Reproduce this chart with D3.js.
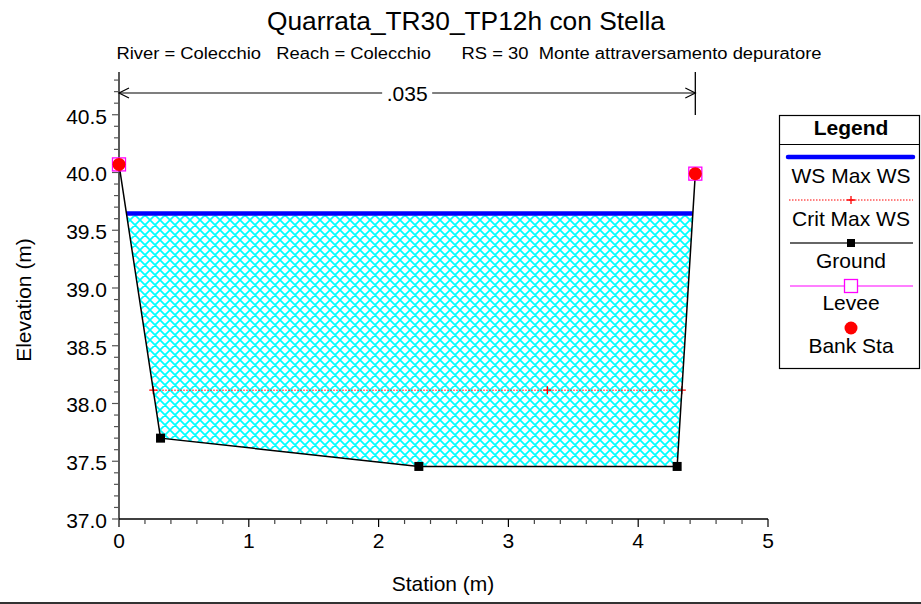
<!DOCTYPE html>
<html><head><meta charset="utf-8">
<script src="https://cdn.jsdelivr.net/npm/d3@7"></script>
<style>body{margin:0;background:#fff}svg{display:block;font-family:"Liberation Sans",Arial,sans-serif}</style>
</head><body><svg id="c" width="921" height="604"></svg>
<script>
// ---- data ----
const titleText = "Quarrata_TR30_TP12h con Stella";
const subtitleText = "River = Colecchio   Reach = Colecchio      RS = 30  Monte attraversamento depuratore";
const groundStation = [0, 0.32, 2.31, 4.30, 4.44];
const groundElev = [40.07, 37.70, 37.455, 37.455, 39.99];
const wsElev = 39.645;
const critElev = 38.115;
const critStations = [0.264, 3.30, 4.336];
const bankStation = [0, 4.44];
const bankElev = [40.07, 39.99];
const leveeStation = [0, 4.44];
const leveeElev = [40.07, 39.99];
const manningN = [".035"];
const xTicks = [0, 1, 2, 3, 4, 5];
const yTicks = [37.0, 37.5, 38.0, 38.5, 39.0, 39.5, 40.0, 40.5];
const legendLabels = ["WS Max WS", "Crit Max WS", "Ground", "Levee", "Bank Sta"];

const svg = d3.select("#c");
const x = d3.scaleLinear().domain([0, 5]).range([119, 768]);
const y = d3.scaleLinear().domain([37, 40.87]).range([519, 72]);
const FS = 21;

// crosshatch pattern
const defs = svg.append("defs");
const P = 10;
const pat = defs.append("pattern").attr("id", "hatch").attr("patternUnits", "userSpaceOnUse")
  .attr("width", P).attr("height", P);
pat.append("path")
  .attr("d", `M0,0L${P},${P}M${P},0L0,${P}M-2,${P - 2}L2,${P + 2}M${P - 2},-2L${P + 2},2M${P - 2},${P + 2}L${P + 2},${P - 2}M-2,2L2,-2`)
  .attr("stroke", "#00ffff").attr("stroke-width", 1.7).attr("fill", "none");

// title
svg.append("text").attr("x", 466).attr("y", 30).attr("text-anchor", "middle").attr("font-size", 25)
  .attr("textLength", 398).attr("lengthAdjust", "spacingAndGlyphs").text(titleText);
svg.append("text").attr("x", 469).attr("y", 59).attr("text-anchor", "middle").attr("font-size", 16)
  .attr("textLength", 705).attr("lengthAdjust", "spacingAndGlyphs")
  .style("white-space", "pre").text(subtitleText);

const ground = groundStation.map((s, i) => [s, groundElev[i]]);

function levelCross(level) {
  const pts = [];
  for (let i = 0; i < ground.length - 1; i++) {
    const [s0, e0] = ground[i], [s1, e1] = ground[i + 1];
    if ((e0 - level) * (e1 - level) < 0) {
      const t = (level - e0) / (e1 - e0);
      pts.push(s0 + t * (s1 - s0));
    }
  }
  return pts;
}
const wsX = levelCross(wsElev);
const poly = [[wsX[0], wsElev]];
ground.forEach(p => { if (p[1] < wsElev) poly.push(p); });
poly.push([wsX[wsX.length - 1], wsElev]);
svg.append("path").attr("d", d3.line().x(d => x(d[0])).y(d => y(d[1]))(poly) + "Z")
  .attr("fill", "url(#hatch)").attr("stroke", "none");

// crit line
const cX = levelCross(critElev);
svg.append("line").attr("x1", x(cX[0])).attr("x2", x(cX[cX.length - 1])).attr("y1", y(critElev)).attr("y2", y(critElev))
  .attr("stroke", "#ff0000").attr("stroke-width", 1).attr("stroke-dasharray", "1.5,1.5");
critStations.forEach(s => {
  const cx = x(s), cy = y(critElev);
  svg.append("path").attr("d", `M${cx - 4},${cy}H${cx + 4}M${cx},${cy - 4}V${cy + 4}`).attr("stroke", "#ff0000").attr("stroke-width", 1.3);
});

// ws line
svg.append("line").attr("x1", x(wsX[0])).attr("x2", x(wsX[wsX.length - 1])).attr("y1", y(wsElev)).attr("y2", y(wsElev))
  .attr("stroke", "#0000ff").attr("stroke-width", 4.5);

// ground line
svg.append("path").attr("d", d3.line().x(d => x(d[0])).y(d => y(d[1]))(ground))
  .attr("fill", "none").attr("stroke", "#000").attr("stroke-width", 1.5);
ground.slice(1, ground.length - 1).forEach(p => {
  svg.append("rect").attr("x", x(p[0]) - 4.5).attr("y", y(p[1]) - 4.5).attr("width", 9).attr("height", 9).attr("fill", "#000");
});

// axes
const xAxisG = svg.append("g").attr("transform", "translate(0,519)");
xAxisG.append("line").attr("x1", 119).attr("x2", 768).attr("stroke", "#000").attr("stroke-width", 1.3);
d3.range(0, 5.001, 0.2).forEach(v => {
  const major = Math.abs(v - Math.round(v)) < 1e-6;
  xAxisG.append("line").attr("x1", x(v)).attr("x2", x(v)).attr("y1", 0).attr("y2", major ? 8 : 5)
    .attr("stroke", major ? "#000" : "#444").attr("stroke-width", 1.2);
});
xTicks.forEach(v => xAxisG.append("text").attr("x", x(v)).attr("y", 29).attr("text-anchor", "middle").attr("font-size", FS).text(v));

const yAxisG = svg.append("g").attr("transform", "translate(119,0)");
yAxisG.append("line").attr("y1", 519).attr("y2", 72).attr("stroke", "#000").attr("stroke-width", 1.3);
d3.range(37, 40.85, 0.1).forEach(v => {
  const major = Math.abs(v * 2 - Math.round(v * 2)) < 1e-6;
  yAxisG.append("line").attr("x1", 0).attr("x2", major ? -7 : -5).attr("y1", y(v)).attr("y2", y(v))
    .attr("stroke", "#555").attr("stroke-width", 1.2);
});
yTicks.forEach(v => yAxisG.append("text").attr("x", -12).attr("y", y(v) + 9).attr("text-anchor", "end").attr("font-size", FS).text(d3.format(".1f")(v)));

svg.append("text").attr("x", 443).attr("y", 591).attr("text-anchor", "middle").attr("font-size", FS).text("Station (m)");
svg.append("text").attr("transform", "translate(31,300) rotate(-90)").attr("text-anchor", "middle").attr("font-size", FS).text("Elevation (m)");

// manning arrow
const ay = 93;
const xl = x(bankStation[0]), xr = x(bankStation[1]);
svg.append("line").attr("x1", xr).attr("x2", xr).attr("y1", 72).attr("y2", 115).attr("stroke", "#000").attr("stroke-width", 1.3);
const midX = (xl + xr) / 2;
svg.append("line").attr("x1", xl).attr("x2", midX - 25).attr("y1", ay).attr("y2", ay).attr("stroke", "#000").attr("stroke-width", 1.2);
svg.append("line").attr("x1", midX + 25).attr("x2", xr).attr("y1", ay).attr("y2", ay).attr("stroke", "#000").attr("stroke-width", 1.2);
svg.append("path").attr("d", `M${xl + 10},${ay - 5}L${xl},${ay}L${xl + 10},${ay + 5}`).attr("fill", "none").attr("stroke", "#000").attr("stroke-width", 1.2);
svg.append("path").attr("d", `M${xr - 10},${ay - 5}L${xr},${ay}L${xr - 10},${ay + 5}`).attr("fill", "none").attr("stroke", "#000").attr("stroke-width", 1.2);
svg.append("text").attr("x", midX).attr("y", ay + 8).attr("text-anchor", "middle").attr("font-size", FS).text(manningN[0]);

// levee + bank markers
leveeStation.forEach((s, i) => {
  svg.append("rect").attr("x", x(s) - 6.5).attr("y", y(leveeElev[i]) - 6.5).attr("width", 13).attr("height", 13)
    .attr("fill", "none").attr("stroke", "#ff00ff").attr("stroke-width", 1.3);
});
bankStation.forEach((s, i) => {
  svg.append("circle").attr("cx", x(s)).attr("cy", y(bankElev[i])).attr("r", 6.5).attr("fill", "#ff0000");
});

// legend
const lg = svg.append("g");
lg.append("rect").attr("x", 779.5).attr("y", 115.5).attr("width", 140).attr("height", 253).attr("fill", "#fff").attr("stroke", "#000").attr("stroke-width", 1.2);
lg.append("line").attr("x1", 779.5).attr("x2", 919.5).attr("y1", 144.5).attr("y2", 144.5).attr("stroke", "#000").attr("stroke-width", 1.2);
lg.append("text").attr("x", 851).attr("y", 135).attr("text-anchor", "middle").attr("font-size", FS).attr("font-weight", "bold").text("Legend");
const lcx = 851;
const symY = [157, 200, 243, 286, 328];
const txtY = [183, 226, 268, 310, 353];
lg.append("line").attr("x1", 788).attr("x2", 913).attr("y1", symY[0]).attr("y2", symY[0]).attr("stroke", "#0000ff").attr("stroke-width", 4.5).attr("stroke-linecap", "round");
lg.append("line").attr("x1", 789).attr("x2", 913).attr("y1", symY[1]).attr("y2", symY[1]).attr("stroke", "#ff0000").attr("stroke-width", 1).attr("stroke-dasharray", "1.5,1.5");
lg.append("path").attr("d", `M${lcx - 4},${symY[1]}H${lcx + 4}M${lcx},${symY[1] - 4}V${symY[1] + 4}`).attr("stroke", "#ff0000").attr("stroke-width", 1.3);
lg.append("line").attr("x1", 790).attr("x2", 913).attr("y1", symY[2]).attr("y2", symY[2]).attr("stroke", "#333").attr("stroke-width", 1.5);
lg.append("rect").attr("x", lcx - 4).attr("y", symY[2] - 4).attr("width", 8).attr("height", 8).attr("fill", "#000");
lg.append("line").attr("x1", 790).attr("x2", 913).attr("y1", symY[3]).attr("y2", symY[3]).attr("stroke", "#ff00ff").attr("stroke-width", 1.2);
lg.append("rect").attr("x", lcx - 6.5).attr("y", symY[3] - 6.5).attr("width", 13).attr("height", 13).attr("fill", "#fff").attr("stroke", "#ff00ff").attr("stroke-width", 1.3);
lg.append("circle").attr("cx", lcx).attr("cy", symY[4]).attr("r", 6.5).attr("fill", "#ff0000");
legendLabels.forEach((t, i) => lg.append("text").attr("x", lcx).attr("y", txtY[i]).attr("text-anchor", "middle").attr("font-size", FS).text(t));

// bottom border
svg.append("line").attr("x1", 0).attr("x2", 921).attr("y1", 603).attr("y2", 603).attr("stroke", "#333").attr("stroke-width", 2);
</script></body></html>
